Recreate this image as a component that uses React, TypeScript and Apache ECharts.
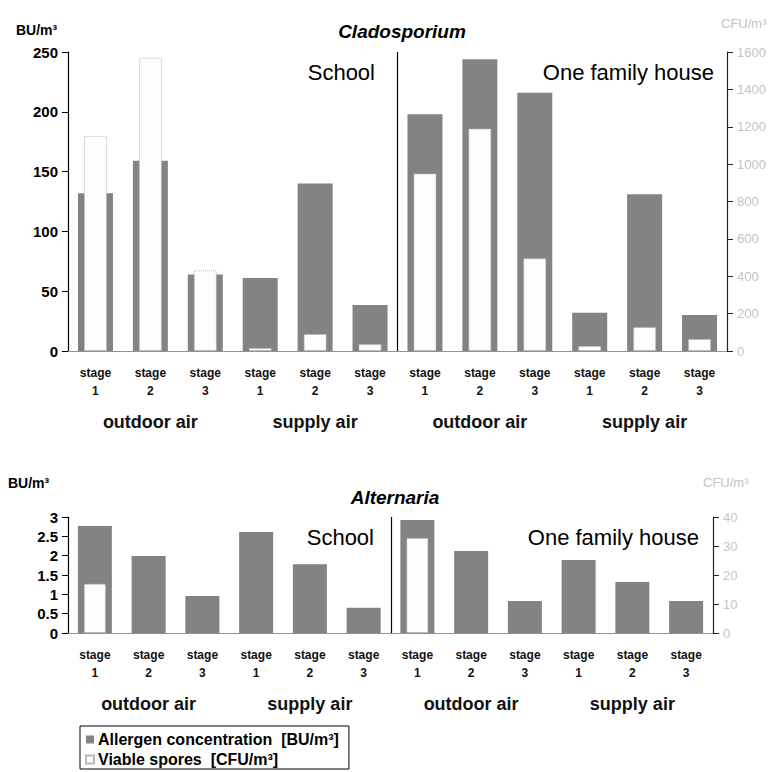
import React, { useEffect, useRef } from "react";
import * as echarts from "echarts";

// ---- data ----
const sites = ["School", "One family house"];
const groups = ["outdoor air", "supply air"];
const stages = ["1", "2", "3"];

// Cladosporium
const cladoAllergen = [132, 159, 64, 61, 140, 38.5, 198, 244, 216, 32, 131, 30]; // BU/m3
const cladoViable = [1150, 1570, 432, 16, 91, 37, 950, 1190, 496, 27, 128, 64]; // CFU/m3
const cladoLeftTicks = { min: 0, max: 250, interval: 50 };
const cladoRightTicks = { min: 0, max: 1600, interval: 200 };

// Alternaria
const altAllergen = [2.77, 1.99, 0.96, 2.61, 1.78, 0.65, 2.92, 2.12, 0.83, 1.89, 1.32, 0.83]; // BU/m3
const altViable = [17, null, null, null, null, null, 32.8, null, null, null, null, null]; // CFU/m3
const altLeftTicks = { min: 0, max: 3, interval: 0.5 };
const altRightTicks = { min: 0, max: 40, interval: 10 };

const allergenName = "Allergen concentration  [BU/m³]";
const viableName = "Viable spores  [CFU/m³]";

// category keys built from the small arrays
const stageCats: string[] = [];
const groupCats: string[] = [];
sites.forEach((s) =>
  groups.forEach((g) => {
    groupCats.push(`${s}|${g}`);
    stages.forEach((st) => stageCats.push(`${s}|${g}|${st}`));
  })
);

const DARK = "#838383";
const FONT = "Liberation Sans, Arial, sans-serif";

export default function App() {
  const ref = useRef<HTMLDivElement>(null);
  useEffect(() => {
    if (!ref.current) return;
    const chart = echarts.init(ref.current, undefined, { renderer: "svg" });

    const grids = [
      { left: 68, width: 659, top: 52, height: 299 },
      { left: 68, width: 645, top: 517, height: 116 },
    ];

    const stageAxis = (gridIndex: number) => ({
      type: "category",
      gridIndex,
      data: stageCats,
      position: "bottom",
      axisLine: { show: true, lineStyle: { color: "#8a8a8a", type: "dotted", width: 1 } },
      axisTick: { show: false },
      axisLabel: {
        interval: 0,
        margin: 13,
        lineHeight: 18,
        fontFamily: FONT,
        fontWeight: "bold",
        fontSize: 12,
        color: "#111",
        formatter: (v: string) => "stage\n" + v.split("|")[2],
      },
    });
    const topAxis = (gridIndex: number) => ({
      type: "category",
      gridIndex,
      data: stageCats,
      position: "top",
      axisLine: { show: true, lineStyle: { color: "#8a8a8a", type: "dotted", width: 1 } },
      axisTick: { show: false },
      axisLabel: { show: false },
    });
    const groupAxis = (gridIndex: number, margin: number) => ({
      type: "category",
      gridIndex,
      data: groupCats,
      position: "bottom",
      axisLine: { show: false },
      axisTick: { show: false },
      axisLabel: {
        interval: 0,
        margin,
        fontFamily: FONT,
        fontWeight: "bold",
        fontSize: 18,
        color: "#111",
        formatter: (v: string) => v.split("|")[1],
      },
    });

    const leftAxis = (gridIndex: number, t: any) => ({
      type: "value",
      gridIndex,
      position: "left",
      ...t,
      axisLine: { show: true, lineStyle: { color: "#000", width: 1.2 } },
      axisTick: { show: true, length: 6, lineStyle: { color: "#000" } },
      splitLine: { show: false },
      axisLabel: {
        fontFamily: FONT,
        fontWeight: "bold",
        fontSize: 15,
        color: "#000",
        margin: 10,
      },
    });
    const rightAxis = (gridIndex: number, t: any) => ({
      type: "value",
      gridIndex,
      position: "right",
      ...t,
      axisLine: { show: true, lineStyle: { color: "#222", width: 1.2 } },
      axisTick: { show: true, length: 6, lineStyle: { color: "#222" } },
      splitLine: { show: false },
      axisLabel: {
        fontFamily: FONT,
        fontSize: 13,
        color: "#c4c4c4",
        margin: 10,
        formatter: (v: number) => String(v),
      },
    });

    const viableStyle = {
      color: "#fdfdfd",
      borderColor: "#b8b8b8",
      borderWidth: 1,
      borderType: "dotted",
    };

    const texts: any[] = [
      { id: "t1", type: "text", left: 16, top: 23, style: { text: "BU/m³", font: `bold 14px ${FONT}`, fill: "#000" } },
      { id: "t2", type: "text", left: 721, top: 17, style: { text: "CFU/m³", font: `13px ${FONT}`, fill: "#c4c4c4" } },
      { id: "t3", type: "text", left: 8, top: 476, style: { text: "BU/m³", font: `bold 14px ${FONT}`, fill: "#000" } },
      { id: "t4", type: "text", left: 703, top: 476, style: { text: "CFU/m³", font: `13px ${FONT}`, fill: "#c4c4c4" } },
      { id: "t5", type: "text", x: 375, y: 72, style: { text: sites[0], font: `22px ${FONT}`, fill: "#000", align: "right", verticalAlign: "middle" } },
      { id: "t6", type: "text", x: 714, y: 72, style: { text: sites[1], font: `22px ${FONT}`, fill: "#000", align: "right", verticalAlign: "middle" } },
      { id: "t7", type: "text", x: 374, y: 537, style: { text: sites[0], font: `22px ${FONT}`, fill: "#000", align: "right", verticalAlign: "middle" } },
      { id: "t8", type: "text", x: 699, y: 537, style: { text: sites[1], font: `22px ${FONT}`, fill: "#000", align: "right", verticalAlign: "middle" } },
    ];

    const option: any = {
      animation: false,
      backgroundColor: "#fff",
      title: [
        {
          text: "Cladosporium",
          left: 397,
          top: 17,
          textAlign: "center",
          textStyle: { fontFamily: FONT, fontSize: 19, fontWeight: "bold", fontStyle: "italic", color: "#000" },
        },
        {
          text: "Alternaria",
          left: 390,
          top: 483,
          textAlign: "center",
          textStyle: { fontFamily: FONT, fontSize: 19, fontWeight: "bold", fontStyle: "italic", color: "#000" },
        },
      ],
      legend: {
        orient: "vertical",
        left: 80,
        top: 726,
        data: [allergenName, viableName],
        icon: "rect",
        itemWidth: 8,
        itemHeight: 8,
        itemGap: 3,
        borderColor: "#000",
        borderWidth: 1,
        padding: [5, 10, 1, 5],
        textStyle: { fontFamily: FONT, fontWeight: "bold", fontSize: 16, lineHeight: 17, color: "#000", padding: [0, 0, 0, -1] },
      },
      grid: grids,
      xAxis: [stageAxis(0), topAxis(0), groupAxis(0, 62), stageAxis(1), topAxis(1), groupAxis(1, 62)],
      yAxis: [
        leftAxis(0, cladoLeftTicks),
        rightAxis(0, cladoRightTicks),
        leftAxis(1, altLeftTicks),
        rightAxis(1, altRightTicks),
      ],
      graphic: texts,
      series: [
        { name: allergenName, type: "bar", xAxisIndex: 0, yAxisIndex: 0, barWidth: 35, data: cladoAllergen, itemStyle: { color: DARK } },
        { name: viableName, type: "bar", xAxisIndex: 1, yAxisIndex: 1, barWidth: 23, data: cladoViable, itemStyle: viableStyle },
        { name: allergenName, type: "bar", xAxisIndex: 3, yAxisIndex: 2, barWidth: 34, data: altAllergen, itemStyle: { color: DARK } },
        { name: viableName, type: "bar", xAxisIndex: 4, yAxisIndex: 3, barWidth: 22, data: altViable, itemStyle: viableStyle },
      ],
    };
    chart.setOption(option);

    // divider between the two sites, positioned through the axes
    const divider = (xi: number, yi: number, yMax: number, id: string) => {
      const a = chart.convertToPixel({ xAxisIndex: xi }, stageCats[5]) as number;
      const b = chart.convertToPixel({ xAxisIndex: xi }, stageCats[6]) as number;
      const x = Math.round((a + b) / 2) + 0.5;
      const y0 = chart.convertToPixel({ yAxisIndex: yi }, 0) as number;
      const y1 = chart.convertToPixel({ yAxisIndex: yi }, yMax) as number;
      return { id, type: "line", shape: { x1: x, y1: y1, x2: x, y2: y0 }, style: { stroke: "#000", lineWidth: 1.2 } };
    };
    chart.setOption({
      graphic: [...texts, divider(0, 0, cladoLeftTicks.max, "d1"), divider(3, 2, altLeftTicks.max, "d2")],
    });
    return () => chart.dispose();
  }, []);
  return <div ref={ref} style={{ width: 777, height: 772, position: "absolute", left: 0, top: 0 }} />;
}
